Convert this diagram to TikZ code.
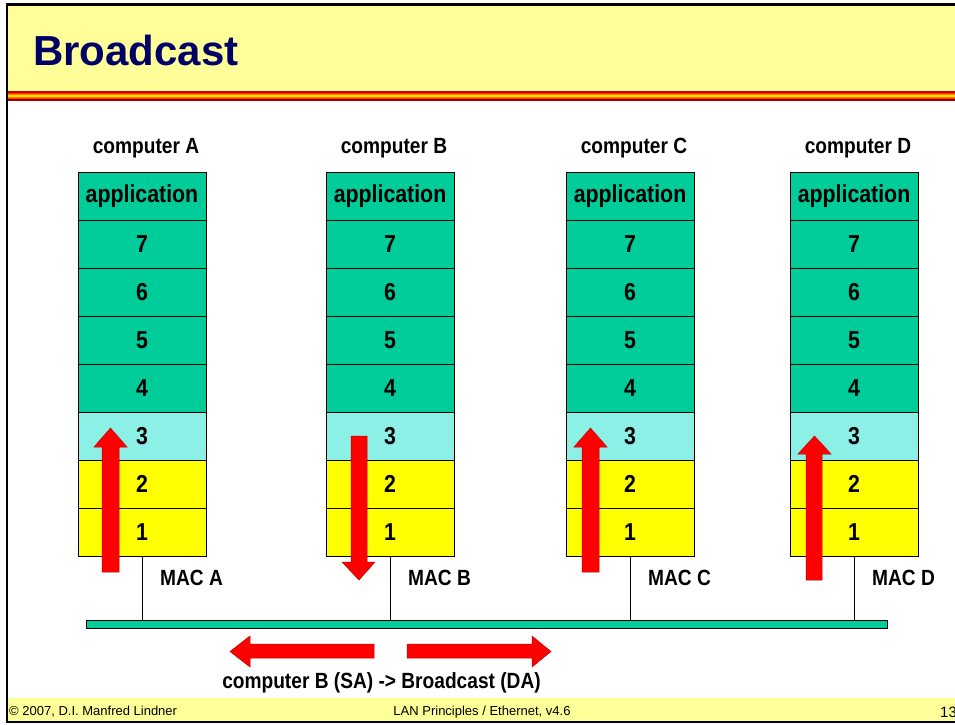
\documentclass[tikz,border=0pt]{standalone}
\usepackage{fontspec}
\setmainfont{Liberation Sans}
\newfontfamily\layerfont[FakeStretch=0.87]{Liberation Sans Bold}
\usetikzlibrary{positioning}

\definecolor{bandyellow}{HTML}{FFFF99}
\definecolor{titleblue}{HTML}{000066}
\definecolor{layergreen}{HTML}{00CC99}
\definecolor{layercyan}{HTML}{8CF0E6}
\definecolor{layeryellow}{HTML}{FFFF00}
\definecolor{arrowred}{HTML}{FF0000}

\tikzset{
  layer/.style={draw=black, line width=0.8pt, minimum width=128, minimum height=48,
    inner sep=0pt, outer sep=0pt, font=\layerfont\fontsize{24.5}{24.5}\selectfont},
  complabel/.style={inner sep=0pt, anchor=base, font=\layerfont\fontsize{22}{22}\selectfont},
  maclabel/.style={inner sep=0pt, anchor=base west, font=\layerfont\fontsize{22}{22}\selectfont},
  footlabel/.style={inner sep=0pt, font=\fontsize{13}{13}\selectfont},
  blockarrow/.style={fill=arrowred, draw=arrowred!75!black, line width=0.5pt},
  bus/.style={draw=black, line width=0.8pt, fill=layergreen, minimum width=801,
    minimum height=8, inner sep=0pt, outer sep=0pt}
}

\begin{document}
\begin{tikzpicture}[x=1pt, y=-1pt]
  \useasboundingbox (0,0) rectangle (955,724);

  % title band and footer band
  \fill[bandyellow] (7,4) rectangle (960,91);
  \fill[bandyellow] (7,698) rectangle (960,721);
  \fill[red!80!black] (7,91) rectangle (960,92.5);
  \fill[red!60!orange] (7,92.5) rectangle (960,94);
  \fill[orange] (7,94) rectangle (960,95.3);
  \fill[yellow!80!orange] (7,95.3) rectangle (960,96.7);
  \fill[orange] (7,96.7) rectangle (960,98);
  \fill[red!60!orange] (7,98) rectangle (960,99.2);
  \fill[red!60!black] (7,99.2) rectangle (960,100.5);
  \draw[line width=2.7pt] (7,4.5) rectangle (970,722);

  \node[inner sep=0pt, anchor=base west, text=titleblue,
    font=\bfseries\fontsize{42}{42}\selectfont] (title) at (33,65) {Broadcast};

  % the shared medium
  \node[bus] (bus) at (486.5,624) {};

  % four protocol stacks
  \foreach \c/\x in {A/142,B/390,C/630,D/854} {
    \node[complabel] (\c-name) at (\x+4,153) {computer \c};
    \node[layer, fill=layergreen] (\c-app) at (\x,196) {application};
    \foreach \l/\y in {7/244,6/292,5/340,4/388}
      \node[layer, fill=layergreen] (\c-\l) at (\x,\y) {\l};
    \node[layer, fill=layercyan] (\c-3) at (\x,436) {3};
    \node[layer, fill=layeryellow] (\c-2) at (\x,484) {2};
    \node[layer, fill=layeryellow] (\c-1) at (\x,532) {1};
    \node[maclabel] (\c-mac) at (\x+18,585) {MAC \c};
    \draw[line width=0.6pt] (\c-1.south) -- (\c-1.south |- bus.north);
  }

  % frame path through the stacks
  \draw[blockarrow] (102,572) -- (102,447) -- (94,447) -- (110.5,428) -- (127,447)
    -- (119,447) -- (119,572) -- cycle;
  \draw[blockarrow] (351,436) -- (351,562) -- (342,562) -- (359,580) -- (375,562)
    -- (367,562) -- (367,436) -- cycle;
  \draw[blockarrow] (582,572) -- (582,447) -- (574,447) -- (590.5,428) -- (607,447)
    -- (599,447) -- (599,572) -- cycle;
  \draw[blockarrow] (806,580) -- (806,454) -- (798,454) -- (814.5,436) -- (831,454)
    -- (822,454) -- (822,580) -- cycle;

  % spreading on the bus
  \draw[blockarrow] (374,644) -- (250,644) -- (250,636) -- (230,651.5) -- (250,667)
    -- (250,658) -- (374,658) -- cycle;
  \draw[blockarrow] (407,644) -- (532,644) -- (532,636) -- (551,651.5) -- (532,667)
    -- (532,658) -- (407,658) -- cycle;
  \node[complabel] (frame) at (381.5,688) {computer B (SA) -> Broadcast (DA)};

  % footer
  \node[footlabel, anchor=base west] (copy) at (9,715) {\textcopyright{} 2007, D.I. Manfred Lindner};
  \node[footlabel, anchor=base] (course) at (482,715) {LAN Principles / Ethernet, v4.6};
  \node[inner sep=0pt, anchor=base west, font=\fontsize{15}{15}\selectfont] (page) at (940,717) {13};
\end{tikzpicture}
\end{document}
